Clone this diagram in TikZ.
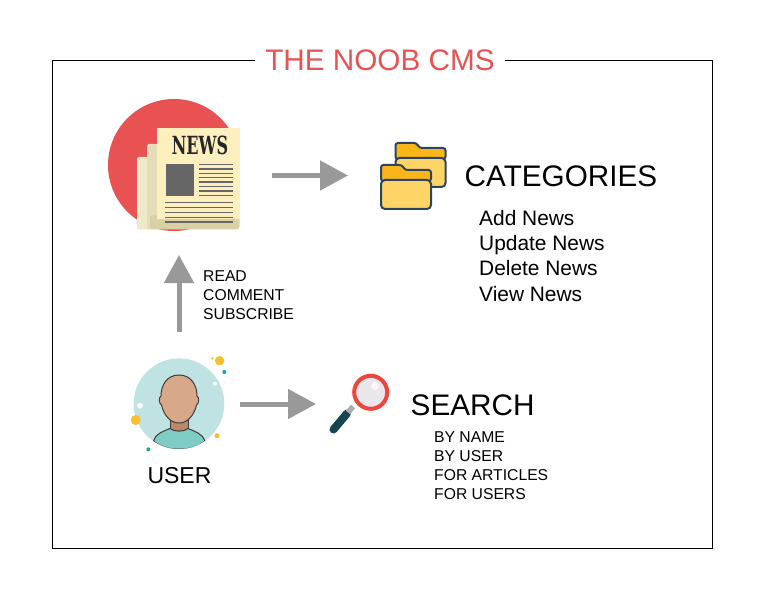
\documentclass[tikz,border=0pt]{standalone}
\usepackage{fontspec}
\setmainfont{Liberation Sans}
\newfontfamily\slabfont{DejaVu Serif}
\usetikzlibrary{arrows.meta}
\definecolor{noobred}{HTML}{E95252}
\definecolor{flowgray}{HTML}{999999}
\definecolor{paper}{HTML}{FDF0BE}
\definecolor{paperbase}{HTML}{D9D0A6}
\definecolor{sheetA}{HTML}{EFE8CB}
\definecolor{sheetB}{HTML}{E5DCB8}
\definecolor{ink}{HTML}{666666}
\definecolor{foldline}{HTML}{2B4560}
\definecolor{folddark}{HTML}{F9B51A}
\definecolor{foldlight}{HTML}{FFD467}
\definecolor{skin}{HTML}{D8A988}
\definecolor{neck}{HTML}{B98A68}
\definecolor{shirt}{HTML}{7ECCC4}
\definecolor{halo}{HTML}{BFE3E3}
\definecolor{dotyellow}{HTML}{F5C02C}
\definecolor{dotteal}{HTML}{13A89E}
\definecolor{outline}{HTML}{3F3A38}
\definecolor{lensring}{HTML}{F0453A}
\definecolor{lens}{HTML}{E9E6EC}
\definecolor{grip}{HTML}{17454F}
\tikzset{
  flow/.style={draw=flowgray,line width=5pt,-{Triangle[length=28pt,width=29pt]}},
  icon/.style={inner sep=0pt,outer sep=0pt},
  heading/.style={anchor=west,inner sep=0pt,font=\fontsize{29.7}{34}\selectfont},
  listA/.style={anchor=north west,inner sep=0pt,align=left,font=\fontsize{20.9}{25.3}\selectfont},
  listB/.style={anchor=north west,inner sep=0pt,align=left,font=\fontsize{15.7}{19}\selectfont},
  inkline/.style={draw=ink,line width=1.5pt},
  folderpart/.style={draw=foldline,line width=2pt,rounded corners=2.5pt},
}
\newcommand{\folderat}[2]{%
  \begin{scope}[shift={(#1,#2)}]
    \path[folderpart,fill=folddark] (0,16) -- (0,0) -- (21,0) -- (24,5) -- (50,5) -- (50,16) -- cycle;
    \path[folderpart,fill=foldlight,rounded corners=4pt] (0,15) rectangle (50,44);
  \end{scope}}
\begin{document}
\begin{tikzpicture}[x=1pt,y=-1pt]
\useasboundingbox (0,0) rectangle (772,591);
\fill[white] (0,0) rectangle (772,591);
\draw[black,line width=1pt] (52.5,60.5) rectangle (712.5,548);
\node[fill=white,inner xsep=10pt,inner ysep=3pt,text=noobred,font=\fontsize{29.7}{34}\selectfont] (title) at (380,60.5) {THE NOOB CMS};

% named icon boxes
\node[icon,minimum width=132pt,minimum height=132pt] (news) at (174,165) {};
\node[icon,minimum width=66pt,minimum height=66pt] (cat) at (413,175.5) {};
\node[icon,minimum width=90pt,minimum height=90pt] (user) at (179,404) {};
\node[icon,minimum width=62pt,minimum height=60pt] (search) at (359,404) {};

% newspaper
\fill[noobred] (174,165) circle (66);
\fill[sheetA,rounded corners=2pt] (137,157) rectangle (150,229.5);
\fill[sheetB,rounded corners=2pt] (147,144) rectangle (158,229.5);
\fill[paperbase,rounded corners=3pt] (150,215) rectangle (239.5,229.5);
\fill[paper] (157,128) rectangle (239.5,219);
\foreach \yy in {164.5,168.9,173.3,177.7,182.1,186.5,190.9,195.3} \draw[inkline] (199,\yy) -- (232.7,\yy);
\foreach \yy in {202.5,207.5,212.5,217.5,222} \draw[inkline] (165,\yy) -- (232.7,\yy);
\fill[ink] (165.7,163.7) rectangle (194.3,196);
\node[icon,text=black!85,font=\slabfont\bfseries\fontsize{25}{25}\selectfont] (newsword) at (200,145.5) {\scalebox{.64}[1]{NEWS}};

% folders
\folderat{395.5}{143}
\folderat{381}{165}

% user
\fill[halo] (179,403.7) circle (45.3);
\begin{scope}
  \clip (179,403.7) circle (45.3);
  \fill[neck] (170,417) rectangle (188,432);
  \draw[outline,line width=1pt] (170,419) -- (170,428.5) (188,419) -- (188,428.5);
  \draw[outline,fill=shirt,line width=1pt] (153.5,441) .. controls (155,434) and (163,431.5) .. (170,428.5) .. controls (174,432) and (184,432) .. (188,428.5) .. controls (195,431.5) and (203,434) .. (205,441) .. controls (192,452) and (166,452) .. cycle;
\end{scope}
\draw[outline,fill=skin,line width=1pt] (179,375) .. controls (191,375) and (197,385) .. (197,396) .. controls (199.5,397) and (199,404) .. (196.5,405) .. controls (194,416) and (187,423) .. (179,423) .. controls (171,423) and (164,416) .. (161.5,405) .. controls (159,404) and (158.5,397) .. (161,396) .. controls (161,385) and (167,375) .. (179,375) -- cycle;
\fill[dotyellow] (219.7,360.7) circle (4.7);
\fill[dotyellow] (212.3,358.3) circle (1.3);
\fill[dotteal] (224.3,372) circle (2);
\fill[white] (215,383.7) circle (2);
\fill[white] (140,405.7) circle (3);
\fill[dotyellow] (135.7,420) circle (5);
\fill[dotyellow] (217,435.7) circle (2.5);
\fill[dotteal] (148.3,449.3) circle (2);
\node[icon,font=\fontsize{23}{26}\selectfont] (userlabel) at (179.5,476) {USER};

% magnifier
\draw[grip,line width=8pt,line cap=round] (347,413.5) -- (333.5,429.5);
\draw[flowgray!80,line width=5.5pt] (353,406.5) -- (348,412.5);
\draw[lensring,fill=lens,line width=4pt] (370.7,392.3) circle (16.5);
\fill[white,opacity=.7] (375,386) circle (4);

% connectors
\draw[flow] ([xshift=32pt]news.east |- cat.west) -- ([xshift=-32pt]cat.west);
\draw[flow] ([yshift=27pt]user.north) -- ([xshift=5pt,yshift=-24pt]news.south);
\draw[flow] ([xshift=16pt]user.east) -- ([xshift=-12pt]search.west);

% texts
\node[heading] (cathead) at (464.5,176.5) {CATEGORIES};
\node[listA] (catlist) at (479,210) {Add News\\Update News\\Delete News\\View News};
\node[listB] (readlist) at (203,270) {READ\\COMMENT\\SUBSCRIBE};
\node[heading] (searchhead) at (410.5,405.5) {SEARCH};
\node[listB] (searchlist) at (434,431.5) {BY NAME\\BY USER\\FOR ARTICLES\\FOR USERS};
\end{tikzpicture}
\end{document}
